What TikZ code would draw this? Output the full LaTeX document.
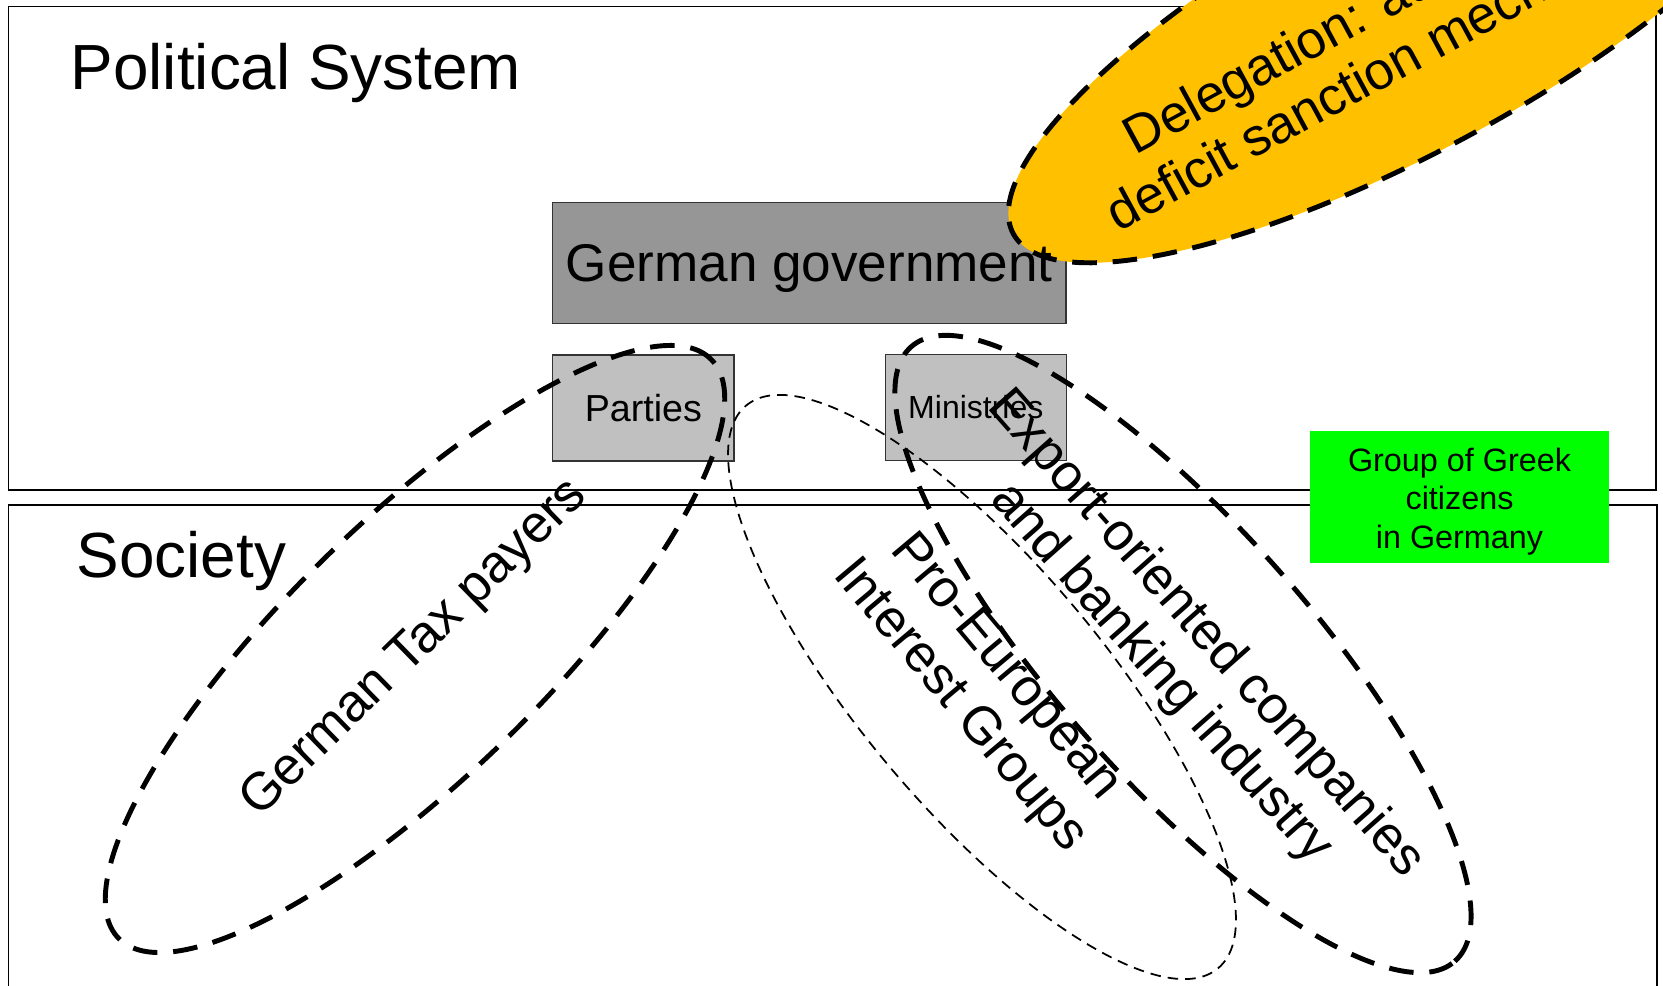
\documentclass[tikz,border=0pt]{standalone}
\usepackage{fontspec}
\setmainfont{Liberation Sans}
\usetikzlibrary{shapes.geometric}

\definecolor{govgray}{RGB}{150,150,150}
\definecolor{boxgray}{RGB}{192,192,192}
\definecolor{greekgreen}{RGB}{0,255,0}
\definecolor{delegorange}{RGB}{255,192,0}

\begin{document}
\begin{tikzpicture}[x=0.01cm,y=-0.01cm,
    frame/.style={draw,line width=0.5pt},
    title/.style={anchor=base west,inner sep=0,font=\fontsize{18.15}{21}\selectfont},
    group/.style={ellipse,draw,line width=1.4pt,dash pattern=on 7pt off 4.5pt,inner sep=0},
    biglabel/.style={inner sep=0,align=center,font=\fontsize{15}{17}\selectfont}]

      \useasboundingbox (0,0) rectangle (1663,986);
      \clip (0,0) rectangle (1663,986);

      \draw[frame] (8.5,6.5) rectangle (1656,490);
      \draw[frame] (8.5,505) rectangle (1657,1000);
      \node[title] (poltitle) at (70,90)  {Political System};
      \node[title] (soctitle) at (76,578) {Society};

      \begin{scope}[every node/.style={draw=black!80,line width=0.4pt,inner sep=0,
                    fill=boxgray,minimum width=1.81cm,minimum height=1.06cm}]
        \node[fill=govgray,minimum width=5.13cm,minimum height=1.21cm] (gov) at (809.3,263) {};
        \node[font=\fontsize{10.7}{12}\selectfont] (parties)    at (643.3,408) {Parties};
        \node[font=\fontsize{9.1}{10}\selectfont]  (ministries) at (975.8,407.5) {Ministries};
      \end{scope}

      \node[fill=greekgreen,minimum width=2.99cm,minimum height=1.32cm,inner sep=0] (greeks) at (1459.5,496.8) {};
      \node[align=center,inner sep=0,font=\fontsize{9.2}{10.9}\selectfont] (greektext) at (1459.5,501.5)
            {Group of Greek\\citizens\\in Germany};

      \begin{scope}[every node/.style={group}]
        \node[minimum width=8.28cm,minimum height=2.56cm,rotate=44.3]  (taxpayers) at (415,649) {};
        \node[minimum width=8.2cm,minimum height=2.54cm,rotate=-48.5]  (export)    at (1183,654) {};
        \node[minimum width=7.34cm,minimum height=2.44cm,rotate=-50,
              line width=0.5pt,dash pattern=on 3pt off 2pt]            (proeuro)   at (982,687) {};
        \node[minimum width=9cm,minimum height=2.62cm,rotate=28.5,
              fill=delegorange]                                        (delegation) at (1409,19) {};
      \end{scope}

      \node[font=\fontsize{15.1}{17}\selectfont,inner sep=0] (govtext) at (809.3,268.5) {German government};

      \begin{scope}[every node/.style={biglabel}]
        \node[rotate=44.3]  (taxtext)    at (taxpayers) {German Tax payers};
        \node[rotate=-48.5] (exporttext) at (export)    {Export-oriented companies\\and banking industry};
        \node[rotate=-50]   (protext)    at (proeuro)   {Pro-European\\Interest Groups};
        \node[rotate=28.5,anchor=base west] (delegtext1) at (1135,156) {Delegation: au};
        \node[rotate=28.5,anchor=base west] (delegtext2) at (1118,233) {deficit sanction mech};
      \end{scope}

    \end{tikzpicture}
\end{document}
